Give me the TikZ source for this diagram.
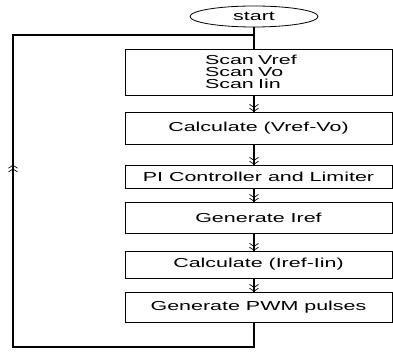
\documentclass[tikz,border=0pt]{standalone}
\usepackage{fontspec}
\setmainfont{Liberation Sans}[FakeStretch=1.65]
\usetikzlibrary{positioning, shapes, arrows.meta, decorations.markings}

\tikzset{
  box/.style={draw, line width=0.8pt, minimum width=267pt, inner sep=0pt},
  chev/.tip={Straight Barb[length=3pt,width=9pt,line width=0.7pt]Straight Barb[length=3pt,width=9pt,line width=0.7pt]},
  flow/.style={line width=2.2pt, postaction={draw, line width=0.6pt, -chev}},
  backloop/.style={line width=2.2pt, postaction={decorate},
    decoration={markings, mark=at position 0.542 with {\arrow{chev}}}}
}

\begin{document}
\begin{tikzpicture}[x=1pt, y=-1pt, font=\fontsize{13}{12}\selectfont]
        \useasboundingbox (0,0) rectangle (393,355);
        \node[ellipse, draw, line width=0.8pt, minimum width=128pt, minimum height=21pt, inner sep=0pt] (start) at (254,16.5) {start};
        \node[box, minimum height=46pt, text width=107pt, inner xsep=80pt, align=left] (scan) at (258.5,72) {Scan Vref\\Scan Vo\\Scan Iin};
        \node[box, minimum height=32pt] (err) at (258.5,128) {Calculate (Vref-Vo)};
        \node[box, minimum height=23pt] (pi) at (258.5,176.5) {PI Controller and Limiter};
        \node[box, minimum height=31pt] (iref) at (258.5,217.5) {Generate Iref};
        \node[box, minimum height=27pt] (ierr) at (258.5,264.5) {Calculate (Iref-Iin)};
        \node[box, minimum height=30pt] (pwm) at (258.5,307) {Generate PWM pulses};
        \coordinate (bl) at (13,347);
        \coordinate (tl) at (13,35);
        % main flow
        \draw[line width=2.2pt] (start.south) -- (start.south |- scan.north);
        \foreach \a/\b in {scan/err, err/pi, pi/iref, iref/ierr, ierr/pwm}
          \draw[flow] (start.south |- \a.south) -- (start.south |- \b.north);
        % loop back
        \draw[backloop] (start.south |- pwm.south) |- (bl) -- (tl) -| (start.south);
      \end{tikzpicture}
\end{document}
